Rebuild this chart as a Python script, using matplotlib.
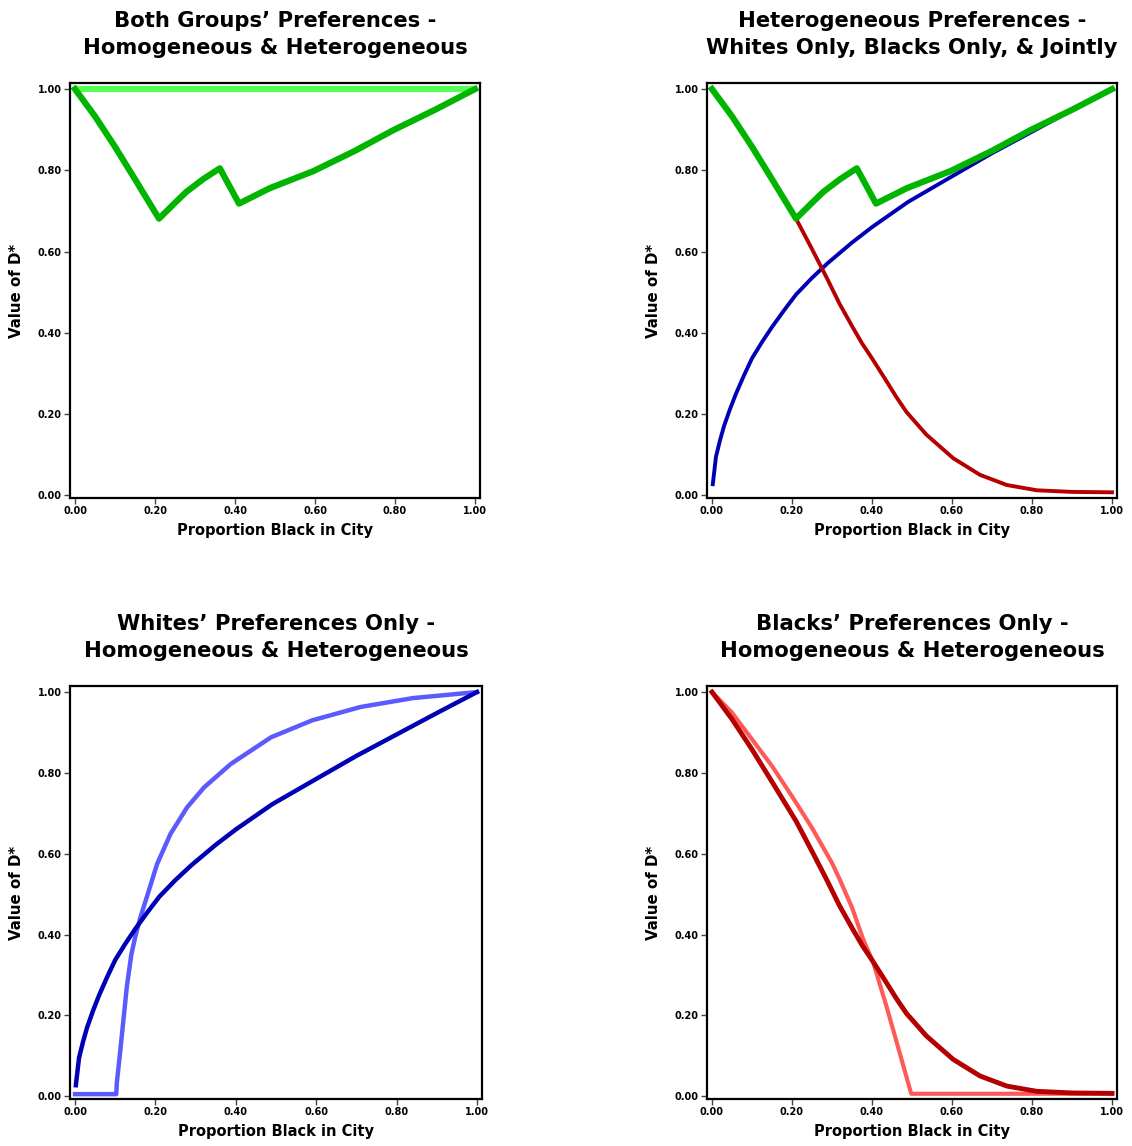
import numpy as np
import matplotlib.pyplot as plt

plt.rcParams['font.family'] = 'DejaVu Sans'
plt.rcParams['font.weight'] = 'bold'

# colours for the homogeneous (light) and heterogeneous (dark) runs
DK_GREEN, LT_GREEN = '#00b400', '#55ff55'
DK_BLUE, LT_BLUE = '#0000b4', '#5a5aff'
DK_RED, LT_RED = '#b40000', '#ff5a5a'

### values
# both groups, homogeneous preferences
both_hom_x = [0.00, 1.00]
both_hom_y = [1.00, 1.00]

# both groups, heterogeneous preferences (jointly)
joint_x = [0.00, 0.05, 0.10, 0.15, 0.21, 0.25, 0.2785, 0.32, 0.362,
           0.41, 0.487, 0.596, 0.70, 0.796, 0.90, 1.00]
joint_y = [1.000, 0.933, 0.858, 0.778, 0.681, 0.720, 0.747, 0.778, 0.805,
           0.718, 0.756, 0.798, 0.848, 0.899, 0.949, 1.000]

# whites only, heterogeneous
white_het_x = [0.002, 0.01, 0.02, 0.03, 0.045, 0.06, 0.08, 0.10, 0.125, 0.15, 0.18,
               0.21, 0.25, 0.29, 0.35, 0.40, 0.49, 0.60, 0.70, 0.80, 0.90, 1.00]
white_het_y = [0.027, 0.095, 0.135, 0.170, 0.212, 0.250, 0.295, 0.337, 0.377, 0.414, 0.455,
               0.494, 0.535, 0.572, 0.622, 0.660, 0.722, 0.785, 0.842, 0.895, 0.948, 1.000]

# whites only, homogeneous
white_hom_x = [0.00, 0.1025, 0.104, 0.1125, 0.121, 0.129, 0.14, 0.15, 0.1625, 0.179,
               0.204, 0.2375, 0.279, 0.321, 0.3875, 0.4875, 0.59, 0.71, 0.84, 1.00]
white_hom_y = [0.005, 0.005, 0.033, 0.112, 0.194, 0.272, 0.350, 0.395, 0.442, 0.494,
               0.574, 0.649, 0.715, 0.764, 0.822, 0.888, 0.930, 0.963, 0.985, 1.000]

# blacks only, heterogeneous
black_het_x = [0.00, 0.05, 0.10, 0.15, 0.21, 0.25, 0.286, 0.319, 0.352, 0.375, 0.40, 0.436,
               0.46, 0.486, 0.536, 0.603, 0.67, 0.737, 0.812, 0.90, 1.00]
black_het_y = [1.000, 0.933, 0.858, 0.778, 0.681, 0.606, 0.537, 0.471, 0.413, 0.374, 0.337, 0.281,
               0.243, 0.205, 0.149, 0.091, 0.050, 0.025, 0.012, 0.008, 0.007]

# blacks only, homogeneous
black_hom_x = [0.00, 0.05, 0.10, 0.15, 0.20, 0.25, 0.30, 0.319, 0.35, 0.378, 0.403,
               0.436, 0.469, 0.498, 0.60, 0.80, 1.00]
black_hom_y = [1.000, 0.949, 0.883, 0.817, 0.742, 0.664, 0.577, 0.537, 0.467, 0.388, 0.331,
               0.223, 0.108, 0.006, 0.006, 0.006, 0.006]

titles = ["Both Groups\u2019 Preferences -\nHomogeneous & Heterogeneous",
          "Heterogeneous Preferences -\nWhites Only, Blacks Only, & Jointly",
          "Whites\u2019 Preferences Only -\nHomogeneous & Heterogeneous",
          "Blacks\u2019 Preferences Only -\nHomogeneous & Heterogeneous"]
ticks = [0.0, 0.2, 0.4, 0.6, 0.8, 1.0]

W, H = 1132, 1146
fig = plt.figure(figsize=(W / 100, H / 100), dpi=100)

# axes boxes in pixels: left, top, right, bottom
boxes = [(70, 83, 480, 498), (707, 83, 1117, 498),
         (70, 686, 482, 1099), (707, 686, 1117, 1099)]
axes = []
for (l, t, r, b) in boxes:
    axes.append(fig.add_axes([l / W, (H - b) / H, (r - l) / W, (b - t) / H]))

ax = axes[0]
ax.plot(both_hom_x, both_hom_y, color=LT_GREEN, lw=4.5, solid_capstyle='butt')
ax.plot(joint_x, joint_y, color=DK_GREEN, lw=4.5)

ax = axes[1]
ax.plot(white_het_x, white_het_y, color=DK_BLUE, lw=2.8)
ax.plot(black_het_x, black_het_y, color=DK_RED, lw=2.8)
ax.plot(joint_x, joint_y, color=DK_GREEN, lw=4.5)

ax = axes[2]
ax.plot(white_hom_x, white_hom_y, color=LT_BLUE, lw=3.2)
ax.plot(white_het_x, white_het_y, color=DK_BLUE, lw=3.2)

ax = axes[3]
ax.plot(black_hom_x, black_hom_y, color=LT_RED, lw=3.0)
ax.plot(black_het_x, black_het_y, color=DK_RED, lw=3.5)

for ax, title in zip(axes, titles):
    ax.set_xlim(-0.0125, 1.0125)
    ax.set_ylim(-0.007, 1.015)
    ax.set_xticks(ticks)
    ax.set_yticks(ticks)
    ax.set_xticklabels([f"{v:.2f}" for v in ticks])
    ax.set_yticklabels([f"{v:.2f}" for v in ticks])
    ax.tick_params(direction='out', length=4, width=1, color='#444444',
                   labelsize=7, pad=2)
    for s in ax.spines.values():
        s.set_linewidth(1.6)
    ax.set_title(title, fontsize=15.2, fontweight='bold', pad=21, linespacing=1.43)
    ax.set_xlabel("Proportion Black in City", fontsize=10.5, fontweight='bold', labelpad=5)
    ax.set_ylabel("Value of D*", fontsize=10.8, fontweight='bold', labelpad=10)

fig.savefig("out.png", dpi=100)
